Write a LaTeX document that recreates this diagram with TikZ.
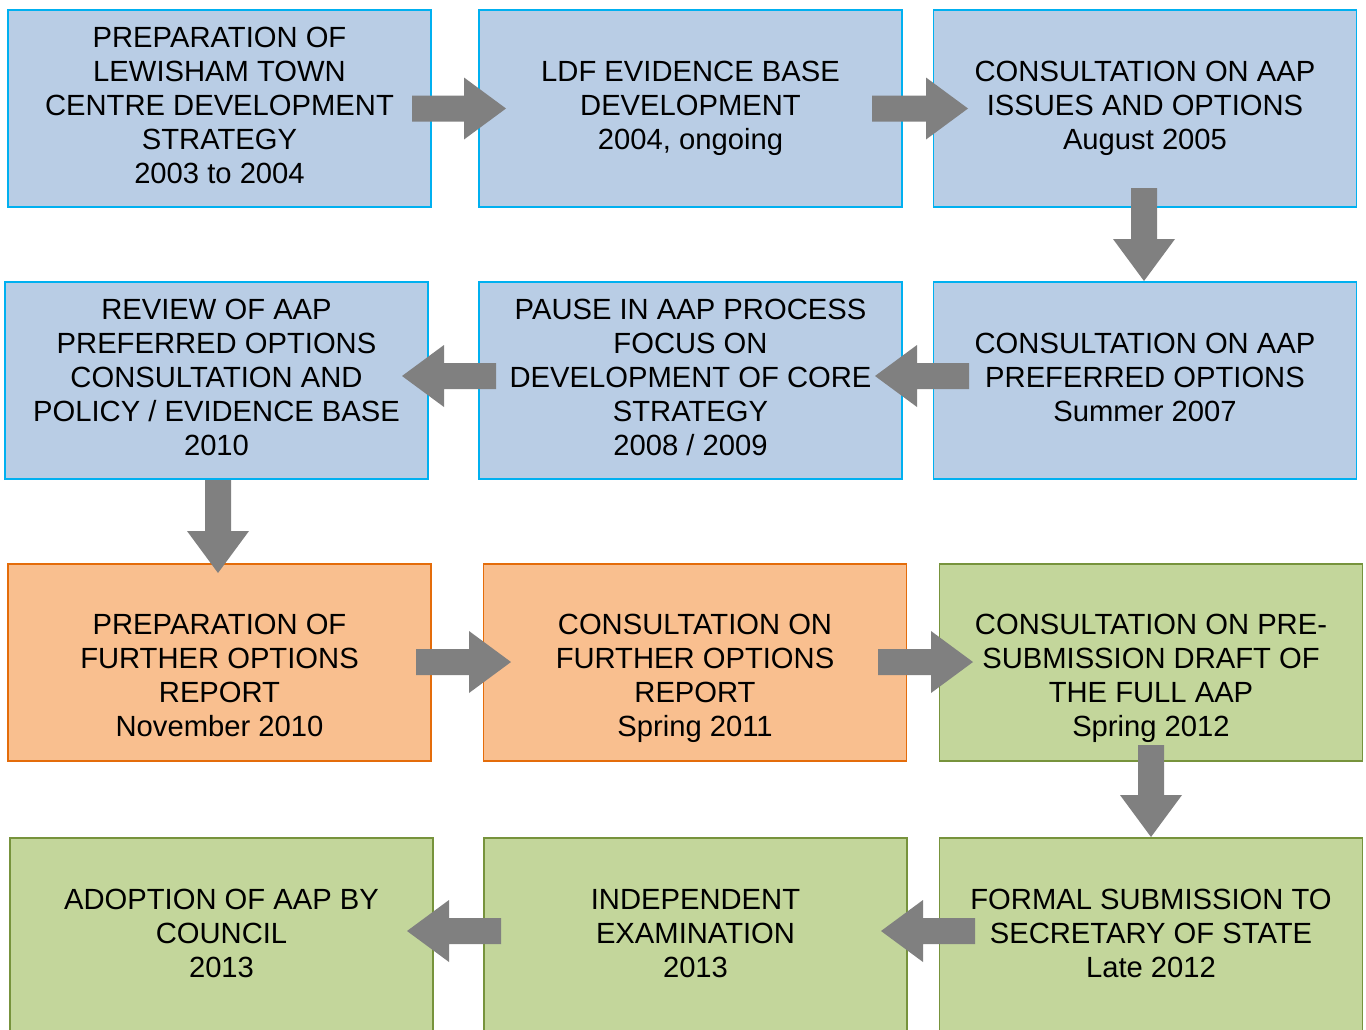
\documentclass[tikz,border=0pt]{standalone}
\usepackage{fontspec}
\setmainfont{Liberation Sans}
\definecolor{bfill}{HTML}{B9CDE5}
\definecolor{bline}{HTML}{00B0F0}
\definecolor{ofill}{HTML}{F9BF8F}
\definecolor{oline}{HTML}{E46C0A}
\definecolor{gfill}{HTML}{C3D69B}
\definecolor{gline}{HTML}{77933C}
\definecolor{agray}{HTML}{808080}
\begin{document}
\begin{tikzpicture}[x=1pt,y=-1pt,
  box/.style={draw, line width=1.6pt, minimum width=423pt, minimum height=197pt, inner sep=0pt},
  bluebox/.style={box, fill=bfill, draw=bline},
  orangebox/.style={box, fill=ofill, draw=oline},
  greenbox/.style={box, fill=gfill, draw=gline},
  txt/.style={align=center, font=\fontsize{29.2}{34}\selectfont, inner sep=0pt, text depth=0pt},
  pics/barrow/.style={code={\fill[agray] (0,-13) -- (#1-42,-13) -- (#1-42,-31) -- (#1,0) -- (#1-42,31) -- (#1-42,13) -- (0,13) -- cycle;}}
]
\useasboundingbox (0,0) rectangle (1366,1029);
\clip (0,0) rectangle (1366,1029);
\fill[white] (0,0) rectangle (1366,1029);

% boxes
\node[bluebox] (a1) at (219.5,108.5) {};
\node[bluebox] (b1) at (690.5,108.5) {};
\node[bluebox] (c1) at (1145,108.5) {};
\node[bluebox] (a2) at (216.5,380.5) {};
\node[bluebox] (b2) at (690.5,380.5) {};
\node[bluebox] (c2) at (1145,380.5) {};
\node[orangebox] (a3) at (219.5,662.5) {};
\node[orangebox] (b3) at (695,662.5) {};
\node[greenbox] (c3) at (1151,662.5) {};
\node[greenbox] (a4) at (221.5,936.5) {};
\node[greenbox] (b4) at (695.5,936.5) {};
\node[greenbox] (c4) at (1151,936.5) {};

% texts
\node[txt] (a1t) at ([yshift=3.5pt]a1.center) {PREPARATION OF\\LEWISHAM TOWN\\CENTRE DEVELOPMENT\\STRATEGY\\2003 to 2004};
\node[txt] (b1t) at ([yshift=3.5pt]b1.center) {LDF EVIDENCE BASE\\DEVELOPMENT\\2004, ongoing};
\node[txt] (c1t) at ([yshift=3.5pt]c1.center) {CONSULTATION ON AAP\\ISSUES AND OPTIONS\\August 2005};
\node[txt] (a2t) at ([yshift=3.5pt]a2.center) {REVIEW OF AAP\\PREFERRED OPTIONS\\CONSULTATION AND\\POLICY / EVIDENCE BASE\\2010};
\node[txt] (b2t) at ([yshift=3.5pt]b2.center) {PAUSE IN AAP PROCESS\\FOCUS ON\\DEVELOPMENT OF CORE\\STRATEGY\\2008 / 2009};
\node[txt] (c2t) at ([yshift=3.5pt]c2.center) {CONSULTATION ON AAP\\PREFERRED OPTIONS\\Summer 2007};
\node[txt] (a3t) at ([yshift=-12.5pt]a3.center) {PREPARATION OF\\FURTHER OPTIONS\\REPORT\\November 2010};
\node[txt] (b3t) at ([yshift=-12.5pt]b3.center) {CONSULTATION ON\\FURTHER OPTIONS\\REPORT\\Spring 2011};
\node[txt] (c3t) at ([yshift=-12.5pt]c3.center) {CONSULTATION ON PRE-\\SUBMISSION DRAFT OF\\THE FULL AAP\\Spring 2012};
\node[txt] (a4t) at ([yshift=3.5pt]a4.center) {ADOPTION OF AAP BY\\COUNCIL\\2013};
\node[txt] (b4t) at ([yshift=3.5pt]b4.center) {INDEPENDENT\\EXAMINATION\\2013};
\node[txt] (c4t) at ([yshift=3.5pt]c4.center) {FORMAL SUBMISSION TO\\SECRETARY OF STATE\\Late 2012};

% block arrows
\pic at (412,108.5) {barrow=94};
\pic at (872,108.5) {barrow=96};
\pic[rotate=-90] at (1144,188) {barrow=93};
\pic[rotate=180] at (969,376) {barrow=94};
\pic[rotate=180] at (496,376) {barrow=94};
\pic[rotate=-90] at (218,480) {barrow=93};
\pic at (416,662) {barrow=95};
\pic at (878,662) {barrow=95};
\pic[rotate=-90] at (1151,745) {barrow=92};
\pic[rotate=180] at (975,931) {barrow=94};
\pic[rotate=180] at (501,931) {barrow=94};
\end{tikzpicture}
\end{document}
